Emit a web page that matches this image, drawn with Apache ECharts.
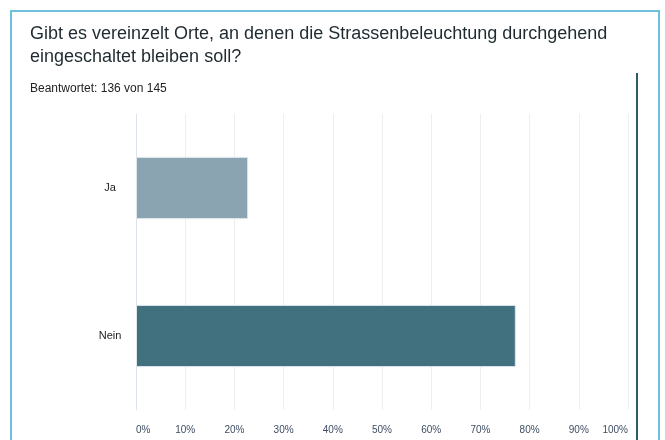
<!DOCTYPE html>
<html style="height: 100%">
<head>
    <meta charset="utf-8">
    <script src="https://cdn.jsdelivr.net/npm/echarts@6/dist/echarts.min.js"></script>
</head>
<body style="height: 100%; margin: 0; background: #fff">
<div id="chart_container" style="width: 665px; height: 440px"></div>
<script type="text/javascript">

    // Antworten und Anteile (in %), 136 Antworten
    var categories = ['Ja', 'Nein'];
    var percentValues = [22.8, 77.2];
    var barColors = ['#8aa4b1', '#41707f'];
    var titleLines = ['Gibt es vereinzelt Orte, an denen die Strassenbeleuchtung durchgehend',
        'eingeschaltet bleiben soll?'];
    var subtitleText = 'Beantwortet: 136 von 145';

    var chart = echarts.init(document.getElementById('chart_container'));

    var option = {
        animation: false,
        title: [
            {
                text: titleLines.join('\n'),
                left: 25,
                top: 18,
                textStyle: {
                    fontFamily: 'Liberation Sans',
                    fontSize: 18,
                    fontWeight: 'normal',
                    color: '#1f2a30',
                    lineHeight: 23
                }
            },
            {
                text: subtitleText,
                left: 25,
                top: 78,
                textStyle: {
                    fontFamily: 'Liberation Sans',
                    fontSize: 12,
                    fontWeight: 'normal',
                    color: '#222'
                }
            }
        ],
        grid: {
            left: 136,
            right: 37,
            top: 114,
            bottom: 30
        },
        xAxis: {
            type: 'value',
            min: 0,
            max: 100,
            interval: 10,
            axisLine: {show: false},
            axisTick: {show: false},
            splitLine: {lineStyle: {color: '#eceef2'}},
            axisLabel: {
                formatter: '{value}%',
                fontFamily: 'Liberation Sans',
                fontSize: 10,
                color: '#3e4d63',
                margin: 15,
                alignMinLabel: 'left',
                alignMaxLabel: 'right'
            }
        },
        yAxis: {
            type: 'category',
            inverse: true,
            data: categories,
            axisLine: {lineStyle: {color: '#dde3ea'}},
            axisTick: {show: false},
            axisLabel: {
                fontFamily: 'Liberation Sans',
                fontSize: 11,
                color: '#222',
                align: 'center',
                margin: 26
            }
        },
        series: [
            {
                type: 'bar',
                barWidth: '42%',
                data: percentValues.map(function (v, i) {
                    return {value: v, itemStyle: {color: barColors[i], borderColor: '#dfe7ec', borderWidth: 1}};
                })
            }
        ],
        graphic: [
            {
                type: 'rect',
                shape: {x: 11, y: 11, width: 648, height: 440},
                style: {fill: 'none', stroke: '#6fc0dc', lineWidth: 2}
            },
            {
                type: 'line',
                shape: {x1: 637, y1: 73, x2: 637, y2: 440},
                style: {stroke: '#2f5a6a', lineWidth: 2}
            }
        ]
    };

    chart.setOption(option);
</script>
</body>
</html>
